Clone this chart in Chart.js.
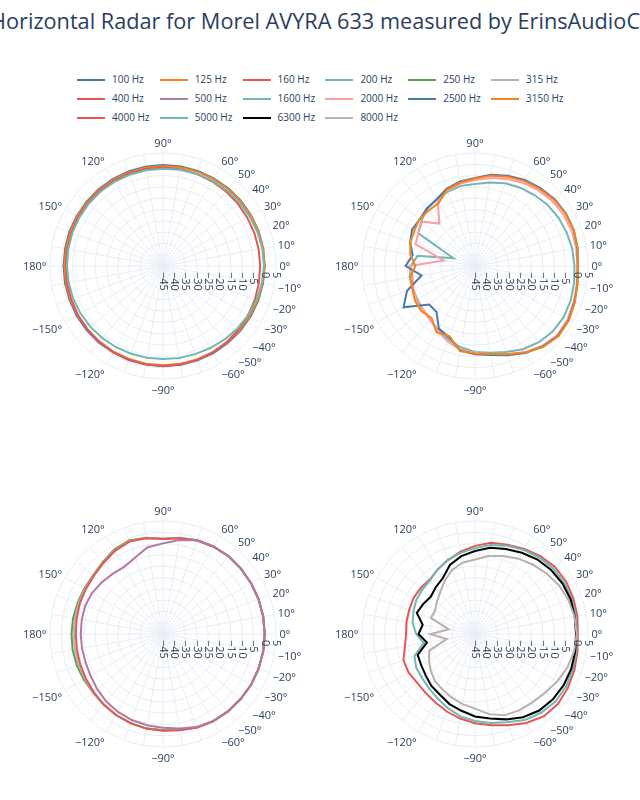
<!DOCTYPE html>
<html>
<head>
<meta charset="utf-8">
<script src="https://cdn.jsdelivr.net/npm/chart.js@4.4.1/dist/chart.umd.min.js"></script>
<style>
body { margin: 0; background: #fff; width: 640px; height: 800px; overflow: hidden; position: relative; font-family: "Open Sans", sans-serif; color: #2a3f5f; }
#title { position: absolute; left: -10px; top: 6px; font-size: 21.7px; white-space: nowrap; }
.leg { position: absolute; font-size: 10px; white-space: nowrap; line-height: 12px; }
.leg span { display: inline-block; width: 28px; height: 0; border-top: 2px solid; vertical-align: middle; margin-right: 7px; }
canvas { position: absolute; }
</style>
</head>
<body>
<div id="title">Horizontal Radar for Morel AVYRA 633 measured by ErinsAudioCorner</div>
<div id="legend"></div>
<canvas id="c1" width="300" height="300" style="left:13px;top:116px"></canvas>
<canvas id="c2" width="300" height="300" style="left:325px;top:116px"></canvas>
<canvas id="c3" width="300" height="300" style="left:13px;top:484px"></canvas>
<canvas id="c4" width="300" height="300" style="left:325px;top:484px"></canvas>
<script>
'use strict';

// angles, clockwise from 0° (right) as the radar draws them
const angles = [0, -10, -20, -30, -40, -50, -60, -70, -80, -90, -100, -110, -120, -130, -140, -150, -160, -170,
    180, 170, 160, 150, 140, 130, 120, 110, 100, 90, 80, 70, 60, 50, 40, 30, 20, 10];
const angleTicks = [0, 10, 20, 30, 40, 50, 60, 90, 120, 150, 180, -150, -120, -90, -60, -50, -40, -30, -20, -10];
const radialTicks = [-45, -40, -35, -30, -25, -20, -15, -10, -5, 0, 5];

// dB values, same order as angles
const hz100 = [0, -0.1, -0.2, -0.3, -0.4, -0.5, -0.5, -0.6, -0.6, -0.6, -0.7, -0.7, -0.8, -0.8, -0.9, -0.9, -1.0, -1.0,
    -1.0, -1.0, -0.9, -0.9, -0.8, -0.7, -0.6, -0.5, -0.4, -0.3, -0.3, -0.2, -0.2, -0.1, -0.1, 0, 0, 0];
const hz125 = [0, -0.3, -0.5, -0.7, -0.8, -0.9, -1.0, -1.0, -1.1, -1.1, -1.1, -1.2, -1.2, -1.3, -1.3, -1.4, -1.4, -1.4,
    -1.4, -1.4, -1.3, -1.3, -1.2, -1.1, -1.0, -0.9, -0.8, -0.8, -0.7, -0.6, -0.5, -0.4, -0.3, -0.2, -0.1, 0];
const hz160 = [-2.0, -1.9, -1.7, -1.5, -1.3, -1.1, -0.9, -0.8, -0.7, -0.7, -0.8, -0.9, -1.0, -1.2, -1.4, -1.6, -1.8, -1.9,
    -2.0, -2.0, -1.9, -1.8, -1.7, -1.6, -1.5, -1.4, -1.4, -1.4, -1.5, -1.6, -1.7, -1.8, -1.9, -2.0, -2.0, -2.0];
const hz200 = [-0.3, -0.6, -1.0, -1.5, -2.0, -2.6, -3.1, -3.5, -3.7, -3.8, -3.8, -3.7, -3.5, -3.3, -3.1, -2.9, -2.7, -2.6,
    -2.5, -2.4, -2.3, -2.2, -2.1, -2.0, -2.0, -2.0, -2.0, -2.0, -1.8, -1.6, -1.4, -1.2, -1.0, -0.8, -0.6, -0.4];

const hz250 = [0, 0, 0, 0, -0.2, -0.3, -0.5, -1.0, -2.0, -2.5, -2.5, -3.0, -3.5, -4.2, -4.6, -4.6, -4.4, -4.4,
    -4.5, -4.6, -4.8, -4.8, -4.6, -3.5, -1.8, -1.0, -1.8, -2.8, -1.8, -0.8, -0.3, 0, 0, 0, 0, 0];
const hz315 = [0, 0, 0, 0, -0.2, -0.3, -0.5, -1.0, -1.9, -2.3, -2.5, -3.0, -3.5, -4.1, -4.7, -5.1, -5.3, -5.4,
    -5.5, -5.4, -5.3, -5.1, -4.8, -3.8, -2.2, -1.3, -1.9, -2.9, -1.9, -0.9, -0.4, 0, 0, 0, 0, 0];
const hz400 = [0, 0, 0, 0, -0.2, -0.3, -0.5, -1.0, -1.8, -2.2, -2.5, -3.0, -3.6, -4.2, -5.0, -5.6, -6.0, -6.3,
    -6.4, -6.2, -5.8, -5.5, -5.0, -4.0, -2.5, -1.5, -2.0, -3.0, -2.0, -1.0, -0.4, 0, 0, 0, 0, 0];
const hz500 = [0, 0, 0, 0, -0.2, -0.3, -0.5, -1.2, -2.5, -3.5, -4.0, -4.5, -5.2, -6.0, -7.0, -8.0, -8.5, -8.6,
    -8.6, -8.5, -8.4, -8.7, -9.5, -10.3, -10.7, -9.0, -6.0, -4.9, -2.8, -0.8, -0.3, 0, 0, 0, 0, 0];

const hz1600 = [-1.0, -0.5, 0, 0.3, 0, -1.0, -2.5, -4.5, -6.0, -7.0, -8.5, -10.5, -12.4, -14.0, -15.0, -15.5, -15.8, -15.7,
    -16.5, -19.2, -34.9, -16.0, -14.0, -12.0, -11.0, -10.0, -9.0, -8.7, -7.5, -6.0, -5.0, -4.0, -3.0, -2.3, -1.8, -1.3];
const hz2000 = [0.3, 0.8, 1.5, 2.3, 2.5, 1.2, -1.0, -3.5, -5.5, -6.5, -7.5, -9.5, -12.0, -14.0, -15.0, -15.0, -16.0, -17.0,
    -16.0, -31.0, -17.0, -16.0, -14.5, -20.5, -12.0, -9.5, -8.0, -7.0, -5.5, -4.0, -2.5, -1.3, -0.3, 0.3, 0.6, 0.5];
const hz2500 = [0.5, 1.0, 1.8, 2.8, 3.0, 1.5, -0.5, -3.0, -5.0, -6.0, -7.0, -11.5, -13.0, -18.5, -18.5, -8.5, -13.0, -21.0,
    -14.3, -17.0, -14.5, -12.8, -13.0, -11.8, -11.0, -8.5, -7.0, -6.0, -4.0, -2.5, -1.0, 0, 1.0, 1.5, 1.5, 1.0];
const hz3150 = [0.5, 1.0, 2.0, 3.0, 3.3, 1.8, -0.8, -3.5, -5.5, -6.3, -6.8, -12.0, -11.0, -15.0, -14.0, -14.3, -15.5, -16.0,
    -18.6, -16.0, -14.5, -14.0, -12.8, -13.0, -12.8, -9.0, -7.5, -6.3, -4.4, -3.0, -1.5, -0.5, 0.7, 1.3, 1.5, 1.1];

const hz4000 = [0.5, 1.0, 1.8, 2.5, 3.0, 2.5, 0.5, -2.0, -4.0, -5.5, -7.0, -8.5, -10.0, -11.0, -11.5, -11.0, -11.3, -13.5,
    -14.5, -14.2, -14.0, -13.5, -13.5, -13.7, -12.0, -10.2, -8.0, -6.0, -4.0, -3.0, -1.5, 0, 1.2, 1.5, 1.3, 1.0];
const hz5000 = [0, 0.5, 1.0, 1.5, 1.5, 0.5, -1.0, -3.5, -5.0, -6.5, -8.0, -10.0, -12.0, -13.5, -14.5, -15.0, -16.5, -22.0,
    -19.0, -17.0, -16.0, -15.0, -14.5, -14.0, -12.0, -10.0, -8.5, -7.0, -5.0, -3.5, -2.0, -0.8, 0.2, 0.5, 0.5, 0.3];
const hz6300 = [-0.3, 0, 0.3, 0.3, 0, -0.8, -2.5, -4.8, -7.0, -8.5, -10.5, -12.0, -14.0, -15.0, -16.5, -17.5, -18.0, -23.4,
    -20.0, -21.5, -17.6, -18.5, -19.4, -18.0, -16.5, -12.5, -10.0, -8.3, -6.3, -5.0, -3.5, -2.0, -1.0, -0.3, 0, -0.2];
const hz8000 = [0, -0.5, -1.5, -3.0, -4.5, -5.5, -6.0, -6.7, -9.0, -12.0, -13.5, -15.0, -16.5, -17.6, -19.5, -21.5, -23.5, -32.3,
    -25.2, -33.2, -24.2, -24.5, -23.0, -21.0, -18.0, -15.0, -13.0, -12.0, -10.0, -8.3, -6.5, -5.0, -3.5, -2.0, -1.0, -0.3];

const legendNames = ['100 Hz', '125 Hz', '160 Hz', '200 Hz', '250 Hz', '315 Hz', '400 Hz', '500 Hz', '1600 Hz',
    '2000 Hz', '2500 Hz', '3150 Hz', '4000 Hz', '5000 Hz', '6300 Hz', '8000 Hz'];
const colors = {
    '100 Hz': '#4c78a8', '125 Hz': '#f58518', '160 Hz': '#e45756', '200 Hz': '#72b7b2',
    '250 Hz': '#54a24b', '315 Hz': '#bab0ac', '400 Hz': '#e45756', '500 Hz': '#b279a2',
    '1600 Hz': '#72b7b2', '2000 Hz': '#ff9da6', '2500 Hz': '#4c78a8', '3150 Hz': '#f58518',
    '4000 Hz': '#e45756', '5000 Hz': '#72b7b2', '6300 Hz': '#000000', '8000 Hz': '#bab0ac'
};

const panels = [
    ['c1', [['100 Hz', hz100], ['125 Hz', hz125], ['160 Hz', hz160], ['200 Hz', hz200]]],
    ['c2', [['1600 Hz', hz1600], ['2000 Hz', hz2000], ['2500 Hz', hz2500], ['3150 Hz', hz3150]]],
    ['c3', [['250 Hz', hz250], ['315 Hz', hz315], ['400 Hz', hz400], ['500 Hz', hz500]]],
    ['c4', [['4000 Hz', hz4000], ['5000 Hz', hz5000], ['6300 Hz', hz6300], ['8000 Hz', hz8000]]]
];

function fmt(v) {
    return (v < 0 ? '\u2212' + (-v) : '' + v);
}

// legend
const legend = document.getElementById('legend');
legendNames.forEach((name, i) => {
    const e = document.createElement('div');
    e.className = 'leg';
    e.style.left = (77 + (i % 6) * 82.8) + 'px';
    e.style.top = (73 + Math.floor(i / 6) * 19) + 'px';
    e.innerHTML = `<span style="border-color:${colors[name]}"></span>${name}`;
    legend.appendChild(e);
});

// text for the polar axes, placed with the radial scale
const FONT = 11;
const polarText = {
    id: 'polarText',
    afterDraw(chart) {
        const s = chart.scales.r;
        const ctx = chart.ctx;
        ctx.save();
        ctx.fillStyle = '#2a3f5f';
        ctx.font = FONT + 'px "Open Sans"';
        for (const v of radialTicks) {
            const d = s.getDistanceFromCenterForValue(v);
            ctx.save();
            ctx.translate(s.xCenter + d, s.yCenter);
            ctx.rotate(Math.PI / 2);
            ctx.textAlign = 'left';
            ctx.textBaseline = 'middle';
            ctx.fillText(fmt(v), 6, 0);
            ctx.restore();
        }
        ctx.textBaseline = 'alphabetic';
        angles.forEach((a, i) => {
            if (!angleTicks.includes(a)) return;
            const p = s.getPointPosition(i, s.drawingArea + 3.5);
            const rad = a * Math.PI / 180;
            const c = Math.cos(rad), sn = Math.sin(rad);
            const ff = sn > 0 ? 0.2 : 1;
            ctx.textAlign = Math.abs(c) < 0.1 ? 'center' : (c > 0 ? 'left' : 'right');
            ctx.fillText(fmt(a) + '\u00b0', p.x, p.y - sn * FONT * ff + Math.abs(c) * FONT * 0.35);
        });
        ctx.restore();
    }
};

for (const [id, list] of panels) {
    new Chart(document.getElementById(id), {
        type: 'radar',
        data: {
            labels: angles.map(a => fmt(a) + '\u00b0'),
            datasets: list.map(([name, values], i) => ({
                label: name,
                data: values,
                borderColor: colors[name],
                backgroundColor: colors[name],
                borderWidth: 2,
                fill: false,
                pointRadius: 0,
                order: list.length - i
            }))
        },
        options: {
            responsive: false,
            animation: false,
            layout: { padding: 37 },
            plugins: { legend: { display: false }, tooltip: { enabled: false } },
            scales: {
                r: {
                    min: -45,
                    max: 5,
                    startAngle: 90,
                    ticks: { display: false, stepSize: 5 },
                    grid: { circular: true, color: '#e8edf5' },
                    angleLines: { color: '#e8edf5' },
                    pointLabels: { display: false }
                }
            }
        },
        plugins: [polarText]
    });
}
</script>
</body>
</html>
